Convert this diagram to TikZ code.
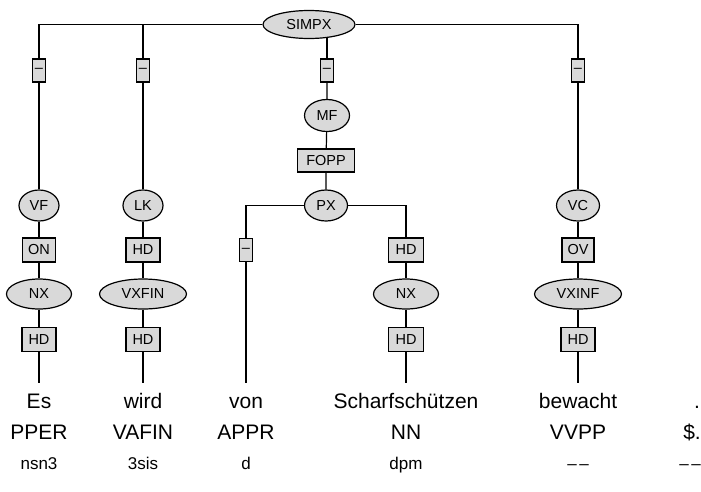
\documentclass[tikz,border=0pt]{standalone}
\usepackage{fontspec}
\setmainfont{Liberation Sans}
\usetikzlibrary{shapes.geometric,backgrounds}
\definecolor{nodefill}{RGB}{217,217,217}
\newcommand{\twodash}{–\kern2.5pt–}
\begin{document}
\begin{tikzpicture}[x=1pt,y=-1pt,
  edge/.style={line width=1.2pt,draw=black},
  cat/.style={ellipse,draw=black,line width=1.2pt,fill=nodefill,inner sep=0pt,font=\fontsize{14.5}{17}\selectfont},
  fn/.style={rectangle,draw=black,line width=1.2pt,fill=nodefill,inner sep=0pt,minimum height=24pt,font=\fontsize{14.5}{17}\selectfont},
  dashbox/.style={fn,minimum width=13pt,minimum height=23pt},
  word/.style={anchor=base,inner sep=0pt,font=\fontsize{21}{24}\selectfont},
  tag/.style={anchor=base,inner sep=0pt,font=\fontsize{21}{24}\selectfont},
  morph/.style={anchor=base,inner sep=0pt,font=\fontsize{17}{20}\selectfont}]
\useasboundingbox (0,0) rectangle (701,491);
% root
\node[cat,minimum width=92pt,minimum height=28pt] (simpx) at (309,24.5) {SIMPX};
% first-level function boxes
\node[dashbox] (d1) at (39,70.5) {–};
\node[dashbox] (d2) at (143,70.5) {–};
\node[dashbox] (d3) at (327,70.5) {–};
\node[dashbox] (d4) at (578,70.5) {–};
% middle field
\node[cat,minimum width=45pt,minimum height=32pt] (mf) at (327,115.5) {MF};
\node[fn,minimum width=57pt,minimum height=23pt] (fopp) at (326,160.5) {FOPP};
% topological fields
\node[cat,minimum width=40pt,minimum height=31pt] (vf) at (39,205.5) {VF};
\node[cat,minimum width=40pt,minimum height=31pt] (lk) at (143,205.5) {LK};
\node[cat,minimum width=43pt,minimum height=31pt] (px) at (326,205.5) {PX};
\node[cat,minimum width=43pt,minimum height=31pt] (vc) at (578,205.5) {VC};
% second function row
\node[fn,minimum width=33pt] (on) at (39,250) {ON};
\node[fn,minimum width=34pt] (hd1) at (143,250) {HD};
\node[dashbox] (d5) at (246,250) {–};
\node[fn,minimum width=35pt] (hd2) at (406,250) {HD};
\node[fn,minimum width=32pt] (ov) at (578,250) {OV};
% phrase row
\node[cat,minimum width=65pt,minimum height=30pt] (nx1) at (39,294) {NX};
\node[cat,minimum width=87pt,minimum height=30pt] (vxfin) at (143,294) {VXFIN};
\node[cat,minimum width=65pt,minimum height=30pt] (nx2) at (406,294) {NX};
\node[cat,minimum width=87pt,minimum height=30pt] (vxinf) at (578,294) {VXINF};
% head row
\node[fn,minimum width=34pt] (hd3) at (39,339.5) {HD};
\node[fn,minimum width=34pt] (hd4) at (143,339.5) {HD};
\node[fn,minimum width=35pt] (hd5) at (406,339.5) {HD};
\node[fn,minimum width=34pt] (hd6) at (578,339.5) {HD};
% line ends
\coordinate (e1) at (39,383);
\coordinate (e2) at (143,383);
\coordinate (e3) at (246,383);
\coordinate (e4) at (406,383);
\coordinate (e5) at (578,383);
% words
\node[word] (w1) at (39,408) {Es};
\node[word] (w2) at (143,408) {wird};
\node[word] (w3) at (246,408) {von};
\node[word] (w4) at (406,408) {Scharfschützen};
\node[word] (w5) at (578,408) {bewacht};
\node[word] (w6) at (697,408) {.};
% tags
\node[tag] (t1) at (39,439.5) {PPER};
\node[tag] (t2) at (143,439.5) {VAFIN};
\node[tag] (t3) at (246,439.5) {APPR};
\node[tag] (t4) at (406,439.5) {NN};
\node[tag] (t5) at (578,439.5) {VVPP};
\node[tag] (t6) at (692,439.5) {\$.};
% morphology
\node[morph] (m1) at (39,469) {nsn3};
\node[morph] (m2) at (143,469) {3sis};
\node[morph] (m3) at (246,469) {d};
\node[morph] (m4) at (406,469) {dpm};
\node[morph] (m5) at (578,469) {\twodash};
\node[morph] (m6) at (690,469) {\twodash};
\begin{pgfonlayer}{background}
\draw[edge] (simpx.west) -| (d1.north);
\draw[edge] (simpx.west) -| (d2.north);
\draw[edge] (simpx.east) -| (d4.north);
\draw[edge] (d3.north) -- (d3.north |- simpx.center);
\draw[edge] (d3) -- (mf) -- (fopp) -- (px);
\draw[edge] (d1) -- (vf) -- (on) -- (nx1) -- (hd3) -- (e1);
\draw[edge] (d2) -- (lk) -- (hd1) -- (vxfin) -- (hd4) -- (e2);
\draw[edge] (px.west) -| (d5.north);
\draw[edge] (d5) -- (e3);
\draw[edge] (px.east) -| (hd2.north);
\draw[edge] (hd2) -- (nx2) -- (hd5) -- (e4);
\draw[edge] (d4) -- (vc) -- (ov) -- (vxinf) -- (hd6) -- (e5);
\end{pgfonlayer}
\end{tikzpicture}
\end{document}
